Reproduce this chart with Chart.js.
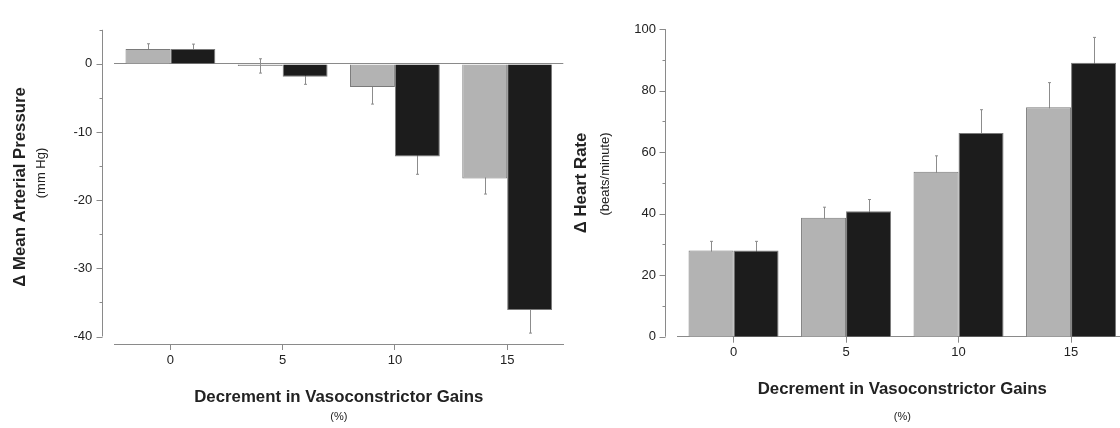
<!DOCTYPE html>
<html>
<head>
<meta charset="utf-8">
<script src="https://cdn.jsdelivr.net/npm/chart.js@4"></script>
<style>
  html, body { margin: 0; padding: 0; background: #fff; overflow: hidden; width: 1120px; height: 428px; }
  #left { position: absolute; left: 0; top: 0; }
  #right { position: absolute; left: 560px; top: 0; }
</style>
</head>
<body>
<canvas id="left" width="570" height="428"></canvas>
<canvas id="right" width="580" height="428"></canvas>
<script>
// decrement in vasoconstrictor gains (%)
const gains = ['0', '5', '10', '15'];

// change in mean arterial pressure (mm Hg)
const mapGray = [2.2, -0.3, -3.4, -16.8];
const mapGrayErr = [0.75, 1.05, 2.5, 2.3];
const mapBlack = [2.2, -1.9, -13.6, -36.1];
const mapBlackErr = [0.7, 1.1, 2.6, 3.4];
const mapTicks = [-40, -30, -20, -10, 0];
const mapMinor = [5, -5, -15, -25, -35];

// change in heart rate (beats/minute)
const hrGray = [28.0, 38.7, 53.6, 74.6];
const hrGrayErr = [3.0, 3.4, 5.2, 8.0];
const hrBlack = [28.0, 40.8, 66.2, 89.1];
const hrBlackErr = [3.0, 3.8, 7.6, 8.2];
const hrTicks = [0, 20, 40, 60, 80, 100];
const hrMinor = [10, 30, 50, 70, 90];

const FONT = "'Liberation Sans', Arial, Helvetica, sans-serif";
const axisColor = '#8a8a8a';
const textColor = '#222';
const grayFill = '#b3b3b3';
const blackFill = '#1c1c1c';
const edge = '#7a7a7a';

// error bars go under the bars, so only the outer half shows
const errorBars = {
  id: 'errorBars',
  beforeDatasetsDraw(chart) {
    const ctx = chart.ctx;
    const y = chart.scales.y;
    ctx.save();
    ctx.strokeStyle = '#8c8c8c';
    ctx.lineWidth = 1;
    chart.data.datasets.forEach((ds, i) => {
      chart.getDatasetMeta(i).data.forEach((bar, j) => {
        const v = ds.data[j], e = ds.errors[j];
        const x = Math.round(bar.x) + 0.5;
        const y1 = y.getPixelForValue(v + e);
        const y2 = y.getPixelForValue(v - e);
        ctx.beginPath();
        ctx.moveTo(x, y1); ctx.lineTo(x, y2);
        ctx.moveTo(x - 1.5, y1); ctx.lineTo(x + 1.5, y1);
        ctx.moveTo(x - 1.5, y2); ctx.lineTo(x + 1.5, y2);
        ctx.stroke();
      });
    });
    ctx.restore();
  }
};

// detached y axis line with major/minor ticks, plus the small unit captions
const sideAxis = {
  id: 'sideAxis',
  afterDraw(chart, args, opts) {
    const ctx = chart.ctx;
    const y = chart.scales.y;
    const area = chart.chartArea;
    const ax = Math.round(area.left - 12) + 0.5;
    ctx.save();
    ctx.strokeStyle = axisColor;
    ctx.lineWidth = 1;
    ctx.beginPath();
    ctx.moveTo(ax, y.getPixelForValue(opts.from));
    ctx.lineTo(ax, y.getPixelForValue(opts.to));
    opts.major.forEach(v => {
      const py = Math.round(y.getPixelForValue(v)) + 0.5;
      ctx.moveTo(ax, py); ctx.lineTo(ax - 6, py);
    });
    opts.minor.forEach(v => {
      const py = Math.round(y.getPixelForValue(v)) + 0.5;
      ctx.moveTo(ax, py); ctx.lineTo(ax - 3, py);
    });
    ctx.stroke();

    ctx.fillStyle = textColor;
    ctx.textAlign = 'center';
    ctx.textBaseline = 'middle';
    ctx.font = '13px ' + FONT;
    ctx.save();
    ctx.translate(opts.unitX, opts.unitY);
    ctx.rotate(-Math.PI / 2);
    ctx.fillText(opts.unit, 0, 0);
    ctx.restore();
    ctx.font = '11px ' + FONT;
    ctx.fillText('(%)', (area.left + area.right) / 2, opts.pctY);
    ctx.restore();
  }
};

function makeChart(id, cfg) {
  return new Chart(document.getElementById(id), {
    type: 'bar',
    data: {
      labels: gains,
      datasets: [
        { data: cfg.gray, errors: cfg.grayErr, backgroundColor: grayFill, borderColor: edge, borderWidth: 1,
          categoryPercentage: 0.8, barPercentage: 1 },
        { data: cfg.black, errors: cfg.blackErr, backgroundColor: blackFill, borderColor: edge, borderWidth: 1,
          categoryPercentage: 0.8, barPercentage: 1 }
      ]
    },
    options: {
      responsive: false,
      animation: false,
      layout: { padding: { top: cfg.top, right: cfg.right, left: 0, bottom: 0 } },
      plugins: {
        legend: { display: false },
        tooltip: { enabled: false },
        sideAxis: cfg.side
      },
      scales: {
        x: {
          offset: true,
          grid: { display: true, drawOnChartArea: false, drawTicks: true, tickLength: 6, offset: false, color: axisColor },
          border: { display: true, color: axisColor, width: 1 },
          ticks: { padding: cfg.xPad, color: textColor, font: { size: 13, family: FONT }, maxRotation: 0 },
          title: { display: true, text: 'Decrement in Vasoconstrictor Gains', color: textColor,
                   font: { size: 16.8, weight: 'bold', family: FONT }, padding: { top: 0, bottom: cfg.xTitlePad } },
          afterFit: s => { s.height = cfg.xHeight; }
        },
        y: {
          min: cfg.min, max: cfg.max,
          afterBuildTicks: s => { s.ticks = cfg.ticks.map(v => ({ value: v })); },
          grid: { display: cfg.zeroLine, drawTicks: false, drawOnChartArea: true,
                  color: c => (c.tick && c.tick.value === 0) ? axisColor : 'rgba(0,0,0,0)' },
          border: { display: false },
          ticks: { padding: cfg.yPad, color: textColor, font: { size: 13, family: FONT } },
          title: { display: true, text: cfg.yTitle, color: textColor,
                   font: { size: 16.8, weight: 'bold', family: FONT }, padding: { top: cfg.yTitlePad, bottom: 0 } },
          afterFit: s => { s.width = cfg.yWidth; }
        }
      }
    },
    plugins: [errorBars, sideAxis]
  });
}

makeChart('left', {
  gray: mapGray, grayErr: mapGrayErr, black: mapBlack, blackErr: mapBlackErr,
  min: -41.1, max: 5, ticks: mapTicks, zeroLine: true,
  top: 10.7, right: 6.7, yWidth: 114.3, xHeight: 84,
  xPad: 3, yPad: 22, xTitlePad: 20.6, yTitlePad: 10.3,
  yTitle: '\u0394 Mean Arterial Pressure',
  side: { from: 5, to: -40, major: mapTicks, minor: mapMinor, unit: '(mm Hg)', unitX: 41.5, unitY: 173, pctY: 416.7 }
});

makeChart('right', {
  gray: hrGray, grayErr: hrGrayErr, black: hrBlack, blackErr: hrBlackErr,
  min: 0, max: 100, ticks: hrTicks, zeroLine: false,
  top: 12.3, right: 12.7, yWidth: 117.3, xHeight: 91.3,
  xPad: 2, yPad: 21.3, xTitlePad: 28.6, yTitlePad: 10.9,
  yTitle: '\u0394 Heart Rate',
  side: { from: 100, to: 0, major: hrTicks, minor: hrMinor, unit: '(beats/minute)', unitX: 45, unitY: 174, pctY: 416.7 }
});
</script>
</body>
</html>
